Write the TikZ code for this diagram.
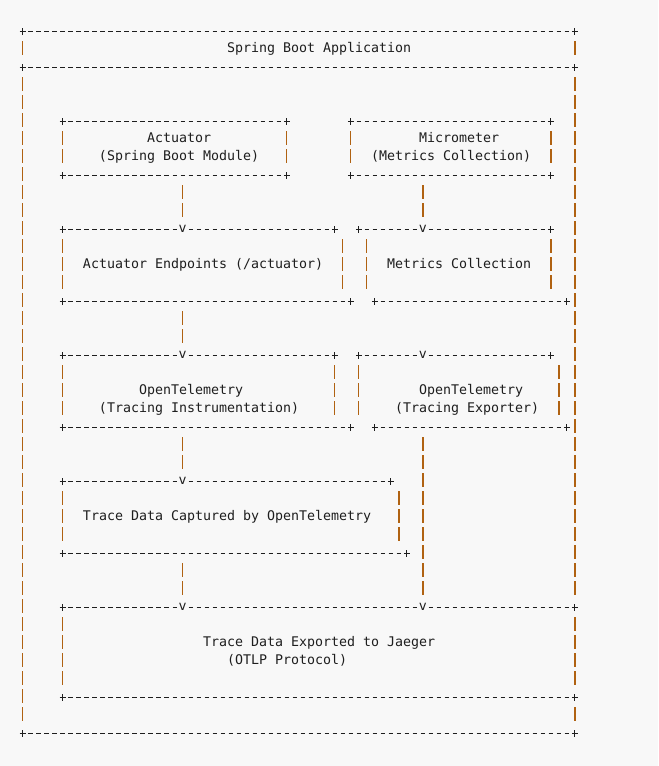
\documentclass[tikz,border=0pt]{standalone}
\usepackage{fontspec}
\setmonofont{DejaVu Sans Mono}
\definecolor{pagebg}{RGB}{248,248,248}
\definecolor{barbrown}{RGB}{176,98,18}
\definecolor{inkgray}{RGB}{30,30,30}
\begin{document}
\begin{tikzpicture}
[x=6pt,y=-13.5pt,
  font=\fontsize{9.97pt}{13.5pt}\selectfont\ttfamily,
  textdecorate/.style={anchor=base west,inner sep=0pt,text=inkgray},
  headdecorate/.style={anchor=base,inner sep=0pt,text=inkgray,fill=pagebg},
  linedecorate/.style={-,line width=0.8pt,inkgray,dash pattern=on 3.375pt off 2.625pt},
  crossdecorate/.style={-,line width=0.85pt,inkgray},
  bardecorate/.style={-,line width=1.1pt,barbrown,dash pattern=on 10.7pt off 2.8pt},
  flowdecorate/.style={bardecorate,shorten <=6.98pt,shorten >=9.3pt}]
%% page
\fill[pagebg] (-2.84,-1.761) rectangle (79.41,40.79);
\useasboundingbox (-2.84,-1.761) rectangle (79.41,40.79);
%% horizontal borders: row/from column/to column
\foreach \y/\xa/\xb in {0/0/69, 2/0/69, 39/0/69, 5/5/33, 8/5/33, 5/41/66,
  8/41/66, 11/5/39, 15/5/41, 11/42/66, 15/44/68, 18/5/39, 22/5/41,
  18/42/66, 22/44/68, 25/5/46, 29/5/48, 32/5/69, 37/5/69} {
  \draw[linedecorate] (\xa+0.72,\y) -- (\xb-0.72,\y);
  \draw[crossdecorate] (\xa-0.375,\y) -- (\xa+0.375,\y)
    (\xa,\y-0.195) -- (\xa,\y+0.195)
    (\xb-0.375,\y) -- (\xb+0.375,\y) (\xb,\y-0.195) -- (\xb,\y+0.195);
}
%% vertical sides: column/from row/to row
\foreach \x/\ya/\yb in {0/1/1, 69/1/1, 0/3/38, 69/3/31, 69/33/36, 69/38/38,
  5/6/7, 33/6/7, 41/6/7, 66/6/7, 5/12/14, 40/12/14, 43/12/14, 66/12/14,
  5/19/21, 39/19/21, 42/19/21, 67/19/21, 5/26/28, 47/26/28, 5/33/36} {
  \draw[bardecorate] (\x,\ya-0.483) -- (\x,\yb+0.311);
}
%% arrow heads
\foreach \nodename/\x/\y in {endpoints-in/20/11, metrics-in/50/11,
  otelinst-in/20/18, otelexp-in/50/18, captured-in/20/25,
  jaeger-in/20/32, jaegerexp-in/50/32} {
  \coordinate (\nodename) at (\x,\y);
  \node[headdecorate] at (\x,\y+0.15) {v};
}
%% start points
\foreach \nodename/\x/\y in {actuator-out/20/8, micrometer-out/50/8,
  endpoints-out/20/15, otelinst-out/20/22, otelexp-out/50/22,
  captured-out/20/29} {
  \coordinate (\nodename) at (\x,\y);
}
%% connectors
\path
\foreach \startnode/\endnode in {actuator-out/endpoints-in,
  micrometer-out/metrics-in, endpoints-out/otelinst-in,
  otelinst-out/captured-in, otelexp-out/jaegerexp-in,
  captured-out/jaeger-in} {
  (\startnode) edge[flowdecorate] (\endnode)
};
%% labels
\node[textdecorate] (app) at (25.5,1.15) {Spring Boot Application};
\node[textdecorate] (actuator) at (15.5,6.15) {Actuator};
\node[textdecorate] (actuator-sub) at (9.5,7.15) {(Spring Boot Module)};
\node[textdecorate] (micrometer) at (49.5,6.15) {Micrometer};
\node[textdecorate] (micrometer-sub) at (43.5,7.15) {(Metrics Collection)};
\node[textdecorate] (endpoints) at (7.5,13.15) {Actuator Endpoints (/actuator)};
\node[textdecorate] (metrics) at (45.5,13.15) {Metrics Collection};
\node[textdecorate] (otelinst) at (14.5,20.15) {OpenTelemetry};
\node[textdecorate] (otelinst-sub) at (9.5,21.15) {(Tracing Instrumentation)};
\node[textdecorate] (otelexp) at (49.5,20.15) {OpenTelemetry};
\node[textdecorate] (otelexp-sub) at (46.5,21.15) {(Tracing Exporter)};
\node[textdecorate] (captured) at (7.5,27.15) {Trace Data Captured by OpenTelemetry};
\node[textdecorate] (jaeger) at (22.5,34.15) {Trace Data Exported to Jaeger};
\node[textdecorate] (jaeger-sub) at (25.5,35.15) {(OTLP Protocol)};
\end{tikzpicture}
\end{document}
